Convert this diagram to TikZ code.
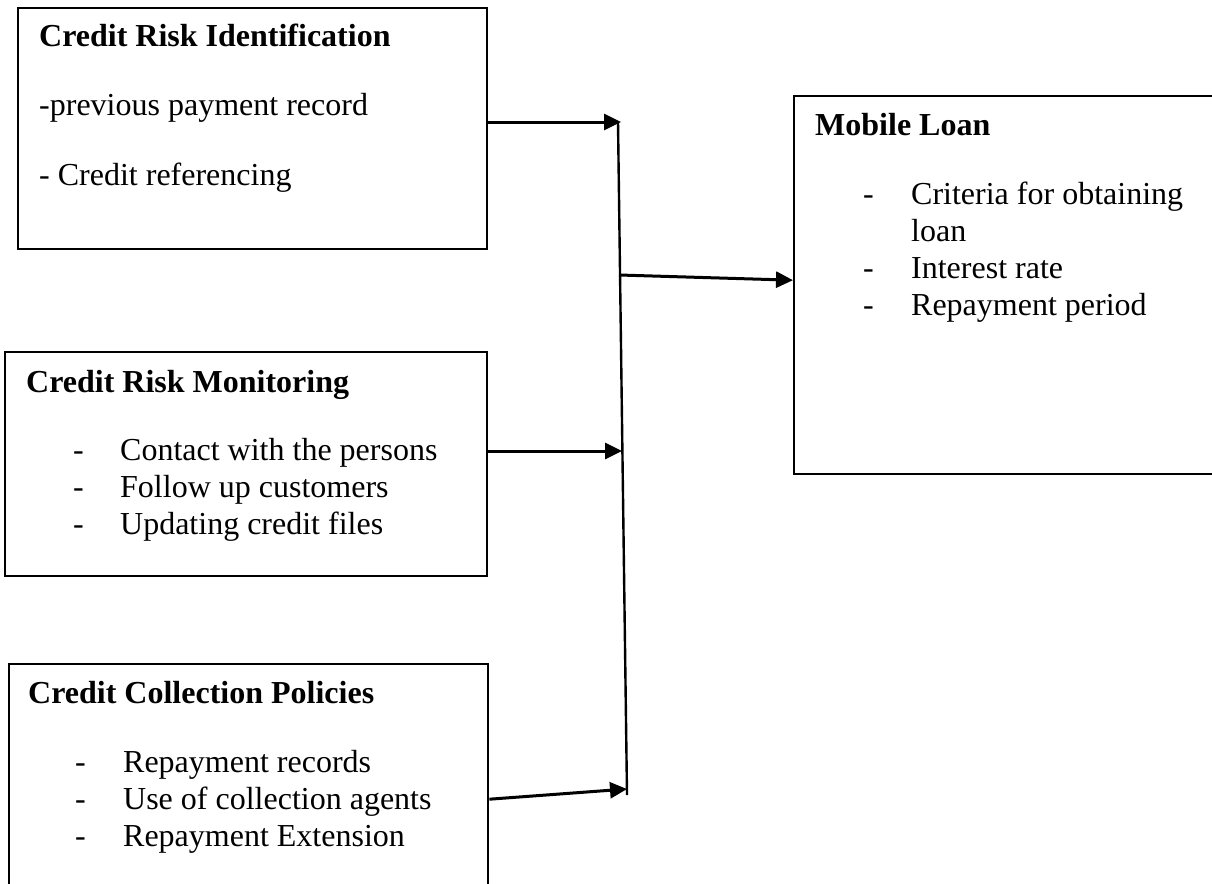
\documentclass[tikz,border=0pt]{standalone}
\usepackage{fontspec}
\setmainfont{Liberation Serif}
\usetikzlibrary{arrows.meta,positioning,calc}

\begin{document}
\begin{tikzpicture}[x=1pt,y=-1pt,
    box/.style={draw,line width=2.4pt,anchor=north west,inner sep=0pt},
    head/.style={anchor=base west,inner sep=0pt,font=\fontsize{32}{37}\selectfont\bfseries},
    items/.style={anchor=base west,inner sep=0pt,font=\fontsize{32}{37}\selectfont},
    bus/.style={line width=2.4pt},
    link/.style={line width=3pt,-{Triangle[length=17pt,width=16pt]}}
  ]
    \useasboundingbox (0,0) rectangle (1212,883);
    % boxes
    \node[box,minimum width=469pt,minimum height=241pt] (ident) at (17,7) {};
    \node[box,minimum width=482pt,minimum height=224pt] (monit) at (4,351) {};
    \node[box,minimum width=479pt,minimum height=230pt] (collect) at (8,663) {};
    \node[box,minimum width=430pt,minimum height=378pt] (loan) at (793,95) {};
    % titles
    \node[head] (identT) at (39,47) {Credit Risk Identification};
    \node[head] (monitT) at (26,392) {Credit Risk Monitoring};
    \node[head] (collectT) at (28,703) {Credit Collection Policies};
    \node[head] (loanT) at (815,135) {Mobile Loan};
    % lists
    \node[items] (identA) at (39,115) {-previous payment record};
    \node[items] (identB) at (39,185) {- Credit referencing};
    \node[items] (monitL) at (73,460) {\begin{tabular}[t]{@{}p{47pt}@{}l@{}}
      - & Contact with the persons\\
      - & Follow up customers\\
      - & Updating credit files
    \end{tabular}};
    \node[items] (collectL) at (75,772) {\begin{tabular}[t]{@{}p{48pt}@{}l@{}}
      - & Repayment records\\
      - & Use of collection agents\\
      - & Repayment Extension
    \end{tabular}};
    \node[items] (loanL) at (863,204) {\begin{tabular}[t]{@{}p{48pt}@{}l@{}}
      - & Criteria for obtaining\\
        & loan\\
      - & Interest rate\\
      - & Repayment period
    \end{tabular}};
    % connectors
    \coordinate (busTop) at (618,122);
    \coordinate (busBot) at (627,795);
    \coordinate (j1) at (621,122);
    \coordinate (j2) at (622,451);
    \coordinate (j3) at (627,789);
    \coordinate (jm) at (619,275);
    \draw[bus] (busTop) -- (busBot);
    \draw[link] (ident.east |- j1) -- (j1);
    \draw[link] (monit.east |- j2) -- (j2);
    \draw[link] ([yshift=-20pt]collect.east) -- (j3);
    \draw[link] (jm) -- ([yshift=5pt]loan.west);
\end{tikzpicture}
\end{document}
